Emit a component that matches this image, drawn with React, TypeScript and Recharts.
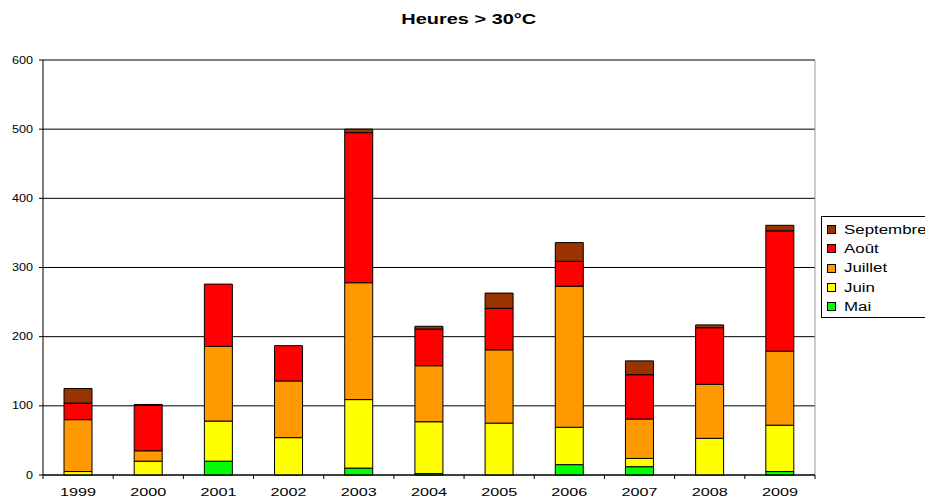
import { BarChart, Bar, XAxis, YAxis, CartesianGrid, Legend } from 'recharts'

// hours above 30°C per month, per year
const years = ['1999', '2000', '2001', '2002', '2003', '2004', '2005', '2006', '2007', '2008', '2009']
const mai = [0, 0, 20, 0, 10, 2, 0, 15, 12, 0, 5]
const juin = [5, 20, 58, 54, 99, 75, 75, 54, 12, 53, 67]
const juillet = [75, 15, 108, 82, 169, 81, 106, 204, 57, 78, 107]
const aout = [24, 66, 90, 51, 217, 53, 60, 36, 64, 82, 174]
const septembre = [21, 1, 0, 0, 5, 4, 22, 27, 20, 4, 8]
const yTicks = [0, 100, 200, 300, 400, 500, 600]

const series = [
  { key: 'Mai', values: mai, color: '#00FF00' },
  { key: 'Juin', values: juin, color: '#FFFF00' },
  { key: 'Juillet', values: juillet, color: '#FF9900' },
  { key: 'Août', values: aout, color: '#FF0000' },
  { key: 'Septembre', values: septembre, color: '#993300' },
]

const data = years.map((year, i) => {
  const row: Record<string, string | number> = { year }
  series.forEach(s => { row[s.key] = s.values[i] })
  return row
})

const FONT = 'Arial, "Liberation Sans", sans-serif'

// the original picture is stretched sideways, so the text is too
const YearTick = (props: any) => {
  const { x, y, payload, index, visibleTicksCount } = props
  const half = payload.offset ?? 35
  const axisY = y - 6
  const last = index === visibleTicksCount - 1
  return (
    <g>
      <line x1={x - half} x2={x - half} y1={axisY} y2={axisY + 4} stroke="#000" />
      {last && <line x1={x + half} x2={x + half} y1={axisY} y2={axisY + 4} stroke="#000" />}
      <text x={x} y={axisY + 20.5} textAnchor="middle" fontSize={11} fontFamily={FONT} fill="#000"
        textLength={36} lengthAdjust="spacingAndGlyphs">
        {payload.value}
      </text>
    </g>
  )
}

const ValueTick = (props: any) => {
  const { x, y, payload } = props
  const len = String(payload.value).length * 7
  return (
    <text x={x} y={y + 3.6} textAnchor="end" fontSize={10} fontFamily={FONT} fill="#000"
      textLength={len} lengthAdjust="spacingAndGlyphs">
      {payload.value}
    </text>
  )
}

const LegendBox = () => (
  <div style={{
    border: '1px solid #000',
    background: '#fff',
    padding: '3px 0 1px 5px',
    width: 120,
    fontFamily: FONT,
    fontSize: 12.5,
    color: '#000',
  }}>
    {[...series].reverse().map(s => (
      <div key={s.key} style={{ display: 'flex', alignItems: 'center', height: 19.3 }}>
        <span style={{
          display: 'inline-block', width: 7, height: 7, background: s.color,
          border: '1px solid #000', marginRight: 8,
        }} />
        <span style={{ display: 'inline-block', transform: 'scaleX(1.35)', transformOrigin: 'left center' }}>{s.key}</span>
      </div>
    ))}
  </div>
)

export default function App() {
  return (
    <div style={{ position: 'absolute', left: 0, top: 0, width: 925, height: 497, overflow: 'hidden', background: '#fff' }}>
      <div style={{
        position: 'absolute', left: 0, width: 938, top: 10, textAlign: 'center',
        fontFamily: FONT, fontWeight: 'bold', fontSize: 15, color: '#000',
      }}>
        <span style={{ display: 'inline-block', transform: 'scaleX(1.33)' }}>Heures &gt; 30°C</span>
      </div>
      <BarChart width={925} height={497} data={data} margin={{ top: 60, right: 110, bottom: 0, left: 0 }}>
        <CartesianGrid horizontal vertical={false} stroke="#000" />
        <CartesianGrid horizontal={false} verticalPoints={[815]} stroke="#999" />
        <XAxis
          dataKey="year"
          height={22}
          axisLine={{ stroke: '#000' }}
          tickLine={false}
          tickSize={4}
          tickMargin={2}
          interval={0}
          tick={<YearTick />}
        />
        <YAxis
          width={43}
          domain={[0, 600]}
          ticks={yTicks}
          interval={0}
          axisLine={{ stroke: '#000' }}
          tickLine={{ stroke: '#000' }}
          tickSize={4}
          tickMargin={6}
          tick={<ValueTick />}
        />
        <Legend
          layout="vertical"
          align="center"
          verticalAlign="middle"
          content={<LegendBox />}
          wrapperStyle={{ left: 821, top: 216, width: 130 }}
        />
        {series.map(s => (
          <Bar
            key={s.key}
            dataKey={s.key}
            stackId="a"
            fill={s.color}
            stroke="#000"
            strokeWidth={1}
            barSize={28}
            isAnimationActive={false}
          />
        ))}
      </BarChart>
    </div>
  )
}
